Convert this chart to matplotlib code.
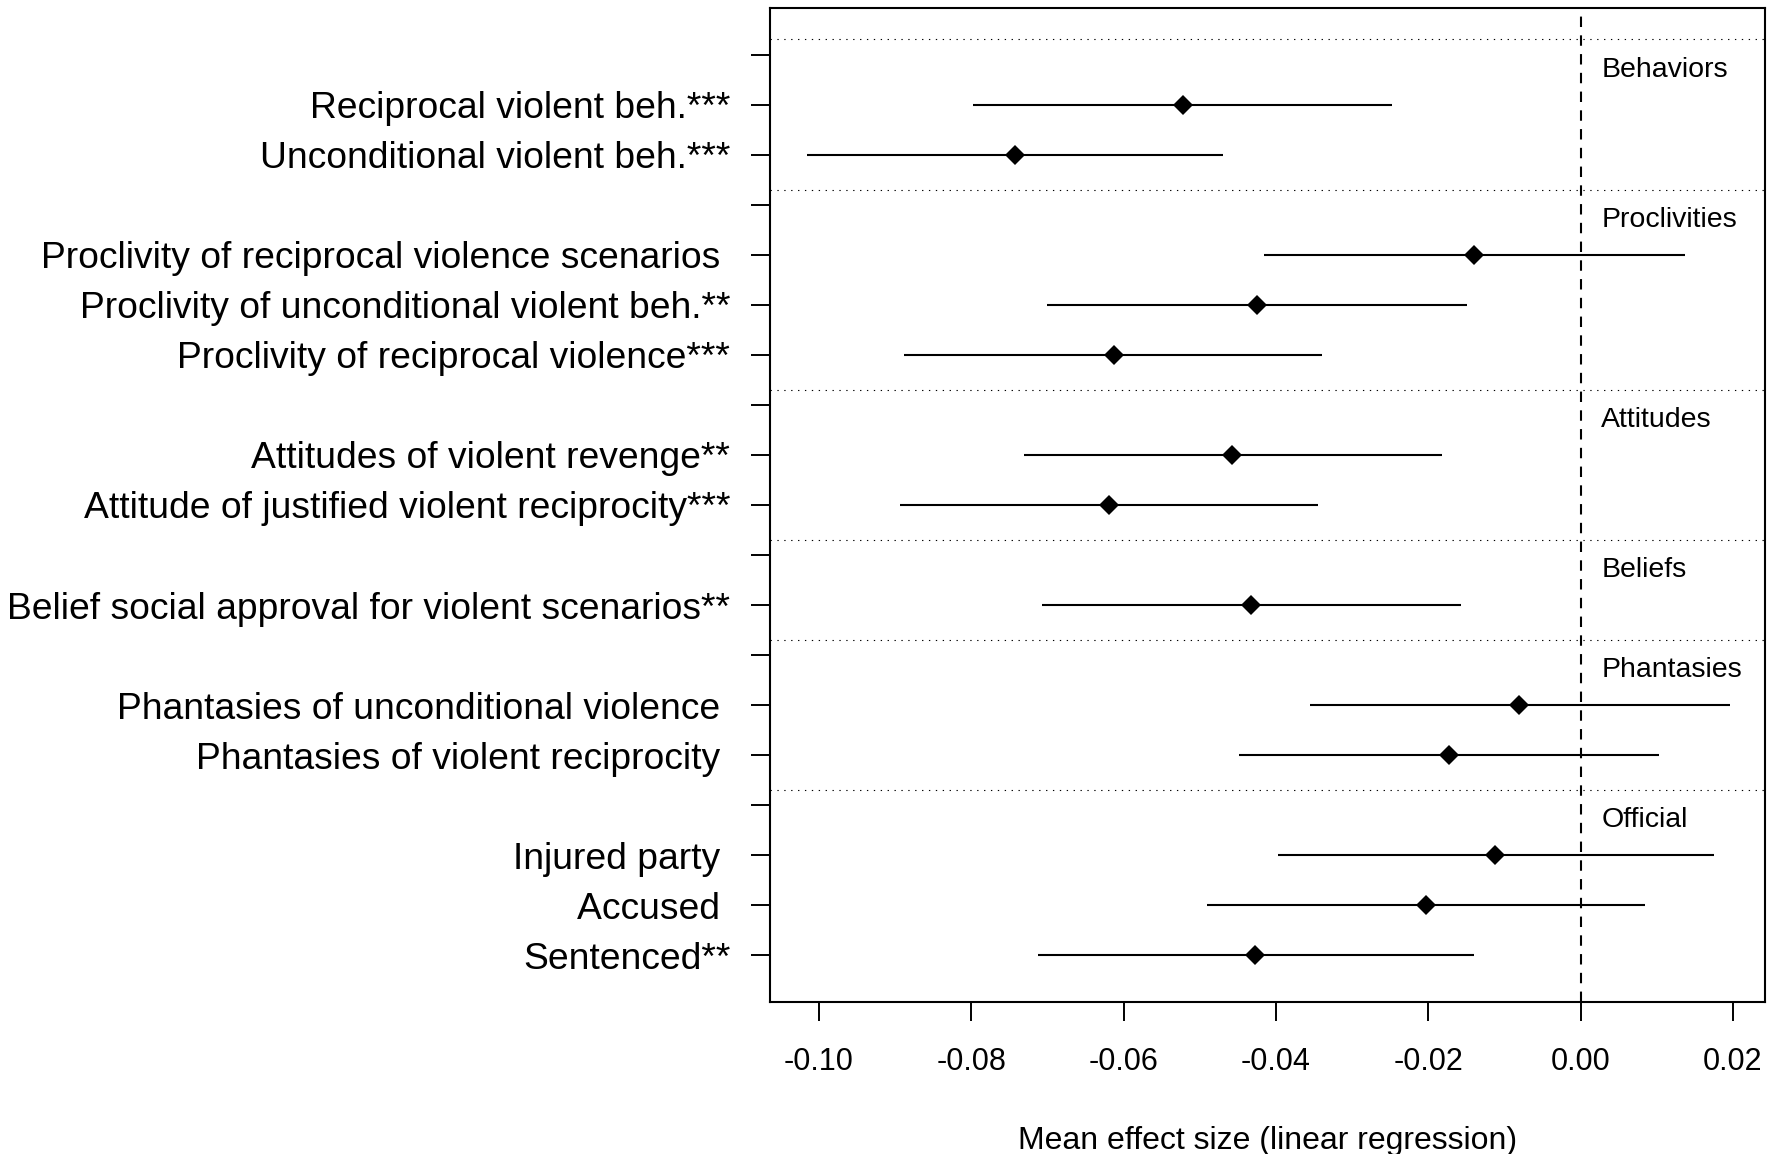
import matplotlib
matplotlib.use("Agg")
import matplotlib.pyplot as plt

plt.rcParams['font.family'] = ['Liberation Sans', 'DejaVu Sans']

# Data
groups = ["Behaviors", "Proclivities", "Attitudes", "Beliefs", "Phantasies", "Official"]
group_sizes = [2, 3, 2, 1, 2, 3]
labels = [
    "Reciprocal violent beh.***",
    "Unconditional violent beh.***",
    "Proclivity of reciprocal violence scenarios ",
    "Proclivity of unconditional violent beh.**",
    "Proclivity of reciprocal violence***",
    "Attitudes of violent revenge**",
    "Attitude of justified violent reciprocity***",
    "Belief social approval for violent scenarios**",
    "Phantasies of unconditional violence ",
    "Phantasies of violent reciprocity ",
    "Injured party ",
    "Accused ",
    "Sentenced**",
]
est = [-0.0522, -0.0743, -0.0140, -0.0425, -0.0613, -0.0458, -0.0619,
       -0.0433, -0.0081, -0.0173, -0.0112, -0.0203, -0.0427]
lo = [-0.0797, -0.1016, -0.0415, -0.0700, -0.0888, -0.0731, -0.0894,
      -0.0707, -0.0355, -0.0448, -0.0397, -0.0490, -0.0712]
hi = [-0.0248, -0.0470, 0.0137, -0.0149, -0.0340, -0.0182, -0.0345,
      -0.0157, 0.0196, 0.0103, 0.0175, 0.0084, -0.0140]
xticks = [-0.10, -0.08, -0.06, -0.04, -0.02, 0.00, 0.02]

# Row layout: one blank header row per group, then its items
row_pos = []
header_pos = []
tick_labels = []
r = 0
k = 0
for g, n in zip(groups, group_sizes):
    header_pos.append(r)
    tick_labels.append("")
    r += 1
    for i in range(n):
        row_pos.append(r)
        tick_labels.append(labels[k])
        k += 1
        r += 1

fig = plt.figure(figsize=(17.83, 11.54), dpi=100)
ax = fig.add_axes([0.4319, 0.1318, 0.558, 0.8613])

for y, l, h, e in zip(row_pos, lo, hi, est):
    ax.plot([l, h], [y, y], color='black', lw=1.5, solid_capstyle='butt')
    ax.plot(e, y, marker='D', color='black', ms=10.5, mew=0)

for g, y in zip(groups, header_pos):
    ax.axhline(y - 0.3, color='black', lw=0.8, linestyle=(0, (1.2, 5)))
    ax.text(0.0027, y + 0.3, g, fontsize=20.5, ha='left', va='center')

ax.axvline(0, color='black', lw=1.5, linestyle=(0, (5, 4)))

ax.set_xlim(-0.1064, 0.0242)
ax.set_ylim(r - 1 + 0.93, -0.93)

ax.set_yticks(range(r))
ax.set_yticklabels(tick_labels, fontsize=26.8)
ax.set_xticks(xticks)
ax.set_xticklabels(["%.2f" % v for v in xticks], fontsize=22)
ax.tick_params(axis='both', direction='out', length=13.7, width=1.4, color='black')
ax.tick_params(axis='y', pad=15)
ax.tick_params(axis='x', pad=19)

for s in ax.spines.values():
    s.set_linewidth(1.5)

ax.set_xlabel("Mean effect size (linear regression)", fontsize=23)
ax.xaxis.set_label_coords(0.5, -0.1395)
ax.xaxis.label.set_va('center')

fig.savefig("out.png", dpi=100)
